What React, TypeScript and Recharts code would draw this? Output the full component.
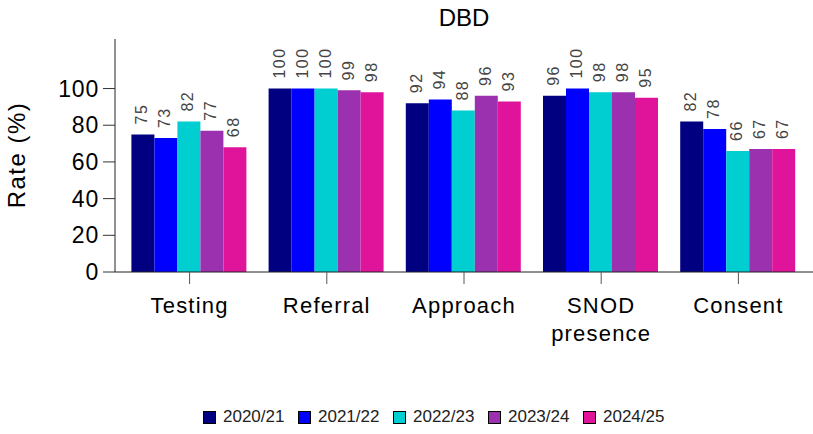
import React from 'react';
import { BarChart, Bar, XAxis, YAxis, Legend, LabelList } from 'recharts';

const categories = ['Testing', 'Referral', 'Approach', 'SNOD presence', 'Consent'];
const seriesNames = ['2020/21', '2021/22', '2022/23', '2023/24', '2024/25'];
const values2020 = [75, 100, 92, 96, 82];
const values2021 = [73, 100, 94, 100, 78];
const values2022 = [82, 100, 88, 98, 66];
const values2023 = [77, 99, 96, 98, 67];
const values2024 = [68, 98, 93, 95, 67];
const yTicks = [0, 20, 40, 60, 80, 100];
const seriesColors = ['#000080', '#0000FF', '#00CED1', '#9C31AF', '#E0149B'];
const chartTitle = 'DBD';
const yAxisTitle = 'Rate (%)';

const seriesValues = [values2020, values2021, values2022, values2023, values2024];
const seriesKeys = ['s0', 's1', 's2', 's3', 's4'];

const data = categories.map((name, i) => {
  const row: Record<string, any> = { name };
  seriesKeys.forEach((k, j) => {
    row[k] = seriesValues[j][i];
  });
  return row;
});

const FONT = 'Arial, "Liberation Sans", Helvetica, sans-serif';

const ValueLabel = (props: any) => {
  const { x, y, width, value } = props;
  const cx = Number(x) + Number(width) / 2 - 1;
  const ty = Number(y) - 10;
  return (
    <text
      x={cx}
      y={ty}
      transform={`rotate(-90 ${cx} ${ty})`}
      textAnchor="start"
      dominantBaseline="central"
      fontSize={16}
      letterSpacing={1.5}
      fill="#444"
      fontFamily={FONT}
    >
      {value}
    </text>
  );
};

const XTick = (props: any) => {
  const { x, y, payload } = props;
  const label = String(payload.value);
  const lines = label.length > 10 ? label.split(' ') : [label];
  return (
    <text
      x={x}
      y={y}
      textAnchor="middle"
      fill="#000"
      fontSize={22}
      letterSpacing={1.2}
      fontFamily={FONT}
    >
      {lines.map((ln, i) => (
        <tspan key={i} x={x} dy={i === 0 ? 16 : 28}>
          {ln}
        </tspan>
      ))}
    </text>
  );
};

const LegendContent = () => (
  <div
    style={{
      display: 'flex',
      alignItems: 'center',
      paddingLeft: 203,
      fontFamily: FONT,
      fontSize: 17,
      color: '#222',
      height: 30,
    }}
  >
    {seriesNames.map((n, i) => (
      <div key={n} style={{ display: 'flex', alignItems: 'center', width: 95, flex: '0 0 95px' }}>
        <span
          style={{
            display: 'inline-block',
            width: 11,
            height: 11,
            background: seriesColors[i],
            border: '1px solid #000',
            marginRight: 7,
          }}
        />
        <span>{n}</span>
      </div>
    ))}
  </div>
);

export default function App() {
  return (
    <div style={{ position: 'absolute', left: 0, top: 0, width: 813, height: 434, background: '#fff' }}>
      <BarChart
        width={813}
        height={434}
        data={data}
        margin={{ top: 39, right: 0, bottom: 2, left: 0 }}
        barCategoryGap={10.4}
        barGap={0}
      >
        <XAxis
          dataKey="name"
          height={130}
          padding={{ left: 6, right: 6 }}
          tickSize={12}
          tickMargin={13}
          axisLine={{ stroke: '#222' }}
          tickLine={{ stroke: '#555' }}
          tick={<XTick />}
          interval={0}
        />
        <YAxis
          width={115}
          domain={[0, 127]}
          ticks={yTicks}
          tickSize={12}
          tickMargin={4}
          axisLine={{ stroke: '#222' }}
          tickLine={{ stroke: '#333' }}
          tick={{ fontSize: 23, fill: '#000', fontFamily: FONT, letterSpacing: 0.8 }}
          allowDataOverflow
        />
        <Legend verticalAlign="bottom" height={30} content={<LegendContent />} />
        {seriesKeys.map((k, i) => (
          <Bar key={k} dataKey={k} name={seriesNames[i]} fill={seriesColors[i]} isAnimationActive={false}>
            <LabelList dataKey={k} content={<ValueLabel />} />
          </Bar>
        ))}
        <text x={464} y={26} textAnchor="middle" fontSize={24} fontFamily={FONT} fill="#000">
          {chartTitle}
        </text>
        <text
          x={16}
          y={155}
          transform="rotate(-90 16 155)"
          textAnchor="middle"
          dominantBaseline="central"
          fontSize={24}
          letterSpacing={1.5}
          fontFamily={FONT}
          fill="#000"
        >
          {yAxisTitle}
        </text>
      </BarChart>
    </div>
  );
}
